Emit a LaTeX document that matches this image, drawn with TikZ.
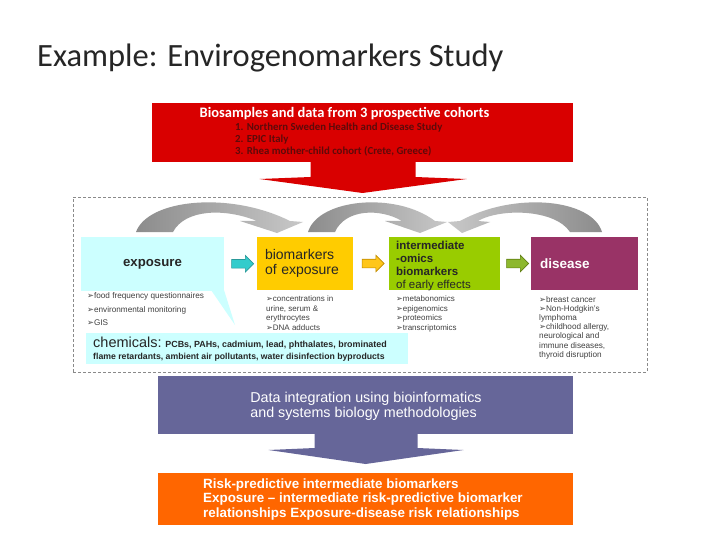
\documentclass[tikz,border=0pt]{standalone}
\usepackage{fontspec}
\setmainfont{Liberation Sans}
\newfontfamily\carl{Carlito}
\newfontfamily\dejav{DejaVu Sans}
\usetikzlibrary{shapes.arrows,calc}
\definecolor{redbox}{HTML}{D90000}
\definecolor{itemred}{HTML}{5E0A0A}
\definecolor{cyanbox}{HTML}{CCFFFF}
\definecolor{yelbox}{HTML}{FFCC00}
\definecolor{grnbox}{HTML}{99CC00}
\definecolor{disbox}{HTML}{993366}
\definecolor{purbox}{HTML}{666699}
\definecolor{orabox}{HTML}{FF6600}
\definecolor{arcdark}{HTML}{8C8C8C}
\definecolor{arclight}{HTML}{C8C8C8}
\definecolor{titlegray}{HTML}{262626}
\definecolor{bultext}{HTML}{404040}
\definecolor{framegray}{HTML}{8A8A8A}
\definecolor{cyanarrow}{HTML}{33CCCC}
\definecolor{cyanedge}{HTML}{2A9999}
\definecolor{orarrow}{HTML}{FFC61A}
\definecolor{oraedge}{HTML}{C08A00}
\definecolor{grnarrow}{HTML}{8DB82E}
\definecolor{grnedge}{HTML}{5F7F10}
\newcommand\arrbul{{\dejav\char"27A2}}
\tikzset{
  box/.style={inner sep=0pt, outer sep=0pt, anchor=north west},
  smallarrow/.style={single arrow, inner sep=4pt, single arrow head extend=4pt, minimum height=22pt, line width=0.6pt},
  bultxt/.style={anchor=north west, align=left, inner sep=0pt, text=bultext},
}
\begin{document}
\begin{tikzpicture}[x=1pt,y=-1pt]
\useasboundingbox[fill=white] (0,0) rectangle (720,540);

% title
\node[anchor=west, inner sep=0pt, font=\carl\fontsize{32.5}{38}\selectfont, text=titlegray] (title) at (37,58) {Example: Envirogenomarkers Study};

% source box
\node[box, fill=redbox, minimum width=421pt, minimum height=59pt] (src) at (152,103) {};
\node[inner sep=0pt, font=\carl\bfseries\fontsize{14.5}{16}\selectfont, text=white] (srchead) at (344.5,114) {Biosamples and data from 3 prospective cohorts};
\node[anchor=north west, align=left, inner sep=0pt, font=\carl\bfseries\fontsize{10.8}{11.8}\selectfont, text=itemred] (srcitems) at (235,123) {1. Northern Sweden Health and Disease Study\\2. EPIC Italy\\3. Rhea mother-child cohort (Crete, Greece)};
\fill[redbox, shift={(src.south)}] (-52,-1) -- (-52,15) -- (-103,17) -- (0,31) -- (104,17) -- (53,15) -- (53,-1) -- cycle;

% dashed frame
\node[box, draw=framegray, line width=0.8pt, dash pattern=on 3pt off 2pt, minimum width=574pt, minimum height=175pt] (frame) at (73,197) {};

% curved arrows
\shade[left color=arcdark, right color=arclight] (136,232) .. controls (148,199) and (230,191) .. (290,221) -- (303,222) -- (277,233) -- (240,221) -- (257,221) .. controls (225,208) and (185,209) .. (173,232) -- cycle;
\shade[left color=arcdark, right color=arclight] (308,232) .. controls (318,199) and (395,191) .. (435,221) -- (447,222) -- (420,233) -- (385,221) -- (402,221) .. controls (380,208) and (345,209) .. (335,232) -- cycle;
\shade[left color=arclight, right color=arcdark] (602,232) .. controls (592,199) and (515,191) .. (460,221) -- (448,222) -- (462,233) -- (490,222) -- (478,221) .. controls (500,208) and (555,209) .. (570,232) -- cycle;

% main boxes
\node[box, fill=cyanbox, minimum width=143pt, minimum height=54pt, font=\bfseries\fontsize{13.2}{15}\selectfont, text=titlegray] (exp) at (81,237) {exposure};
\fill[cyanbox] (exp.south east) ++(0,-1) -- ++(11,35) -- ++(-24,-35) -- cycle;
\node[box, fill=yelbox, text width=80pt, inner xsep=8pt, minimum height=53pt, align=left, font=\fontsize{14}{15}\selectfont, text=titlegray] (bio) at (257,237) {biomarkers\\of exposure};
\node[box, fill=grnbox, minimum width=111pt, minimum height=53pt] (inter) at (389,237) {};
\node[anchor=north west, inner sep=0pt, align=left, font=\fontsize{11.5}{13}\selectfont, text=titlegray] (intert) at ($(inter.north west)+(7,3.5)$) {\textbf{intermediate}\\\textbf{-omics}\\\textbf{biomarkers}\\of early effects};
\node[box, fill=disbox, text width=89pt, inner xsep=9pt, minimum height=53pt, align=left, font=\bfseries\fontsize{13.5}{15}\selectfont, text=white] (dis) at (531,237) {disease};

% small arrows
\node[smallarrow, fill=cyanarrow, draw=cyanedge] (a1) at ($(exp.east)!0.5!(bio.west)$) {};
\node[smallarrow, fill=orarrow, draw=oraedge] (a2) at ($(bio.east)!0.5!(inter.west)$) {};
\node[smallarrow, fill=grnarrow, draw=grnedge] (a3) at ($(inter.east)!0.5!(dis.west)$) {};

% bullet lists
\node[bultxt, font=\fontsize{8.2}{13.5}\selectfont] (expb) at (87,292.5) {\arrbul food frequency questionnaires\\\arrbul environmental monitoring\\\arrbul GIS};
\node[bultxt, font=\fontsize{8}{9.4}\selectfont] (biob) at (266,296) {\arrbul concentrations in\\urine, serum \&\\erythrocytes\\\arrbul DNA adducts};
\node[bultxt, font=\fontsize{8}{9.4}\selectfont] (interb) at (396,296) {\arrbul metabonomics\\\arrbul epigenomics\\\arrbul proteomics\\\arrbul transcriptomics};
\node[bultxt, font=\fontsize{8.2}{9.2}\selectfont] (disb) at (539,296) {\arrbul breast cancer\\\arrbul Non-Hodgkin's\\lymphoma\\\arrbul childhood allergy,\\neurological and\\immune diseases,\\thyroid disruption};

% chemicals box
\node[box, fill=cyanbox, minimum width=322pt, minimum height=31pt] (chem) at (86,333) {};
\node[anchor=base west, inner sep=0pt, text=titlegray] (chem1) at (93,347.5) {{\fontsize{14.5}{15}\selectfont chemicals:} {\bfseries\fontsize{8.9}{9}\selectfont PCBs, PAHs, cadmium, lead, phthalates, brominated}};
\node[anchor=base west, inner sep=0pt, text=titlegray, font=\bfseries\fontsize{8.7}{9}\selectfont] (chem2) at (93,359) {flame retardants, ambient air pollutants, water disinfection byproducts};

% integration box
\node[box, fill=purbox, minimum width=415pt, minimum height=58pt] (integ) at (158,376) {};
\node[inner sep=0pt, align=left, text=white, font=\fontsize{14.3}{15}\selectfont] (integt) at (366,406) {Data integration using bioinformatics\\and systems biology methodologies};
\fill[purbox, shift={(integ.south)}] (-51,-1) -- (-51,14) -- (-97,16) -- (0,30) -- (98,16) -- (52,14) -- (52,-1) -- cycle;

% risk box
\node[box, fill=orabox, minimum width=415pt, minimum height=52pt] (risk) at (158,473) {};
\node[anchor=west, inner sep=0pt, align=left, text=white, font=\bfseries\fontsize{13.4}{14.5}\selectfont] (riskt) at (203,499.5) {Risk-predictive intermediate biomarkers\\Exposure -- intermediate risk-predictive biomarker\\relationships Exposure-disease risk relationships};
\end{tikzpicture}
\end{document}
